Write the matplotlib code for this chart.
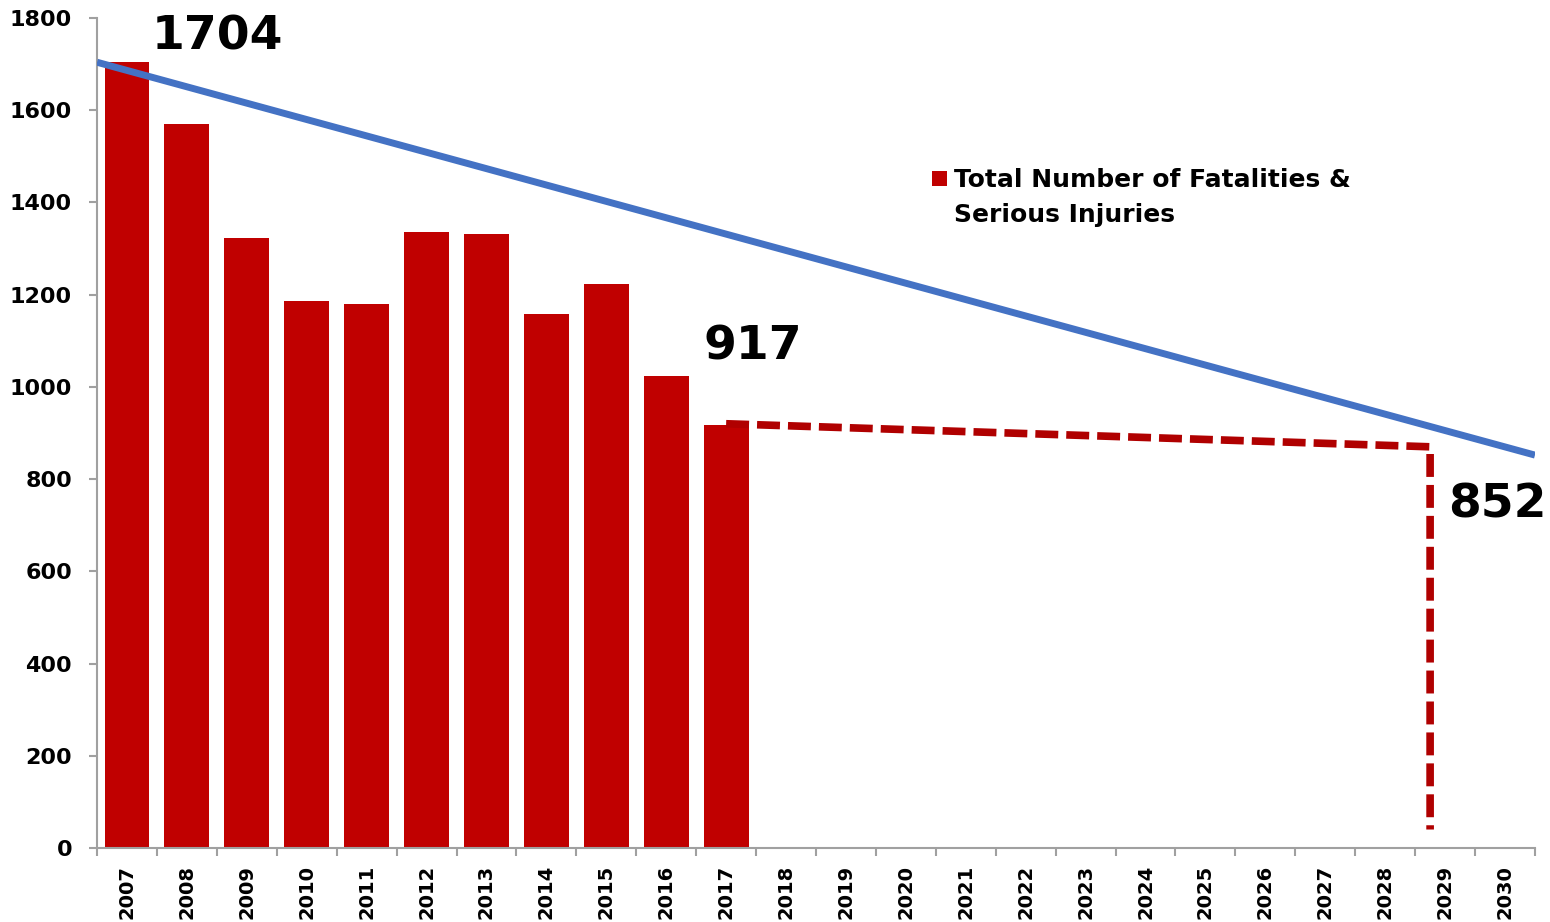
import matplotlib
matplotlib.use("Agg")
import matplotlib.pyplot as plt
import numpy as np
from matplotlib.patches import Patch

years = [str(y) for y in range(2007, 2031)]
bar_years = years[:11]
fsi_values = [1704, 1570, 1322, 1187, 1180, 1335, 1331, 1158, 1222, 1024, 917]
target_values = [1704, 852]          # straight-line target from 2007 to 2030
projection_values = [920, 870, 40]   # dashed projection: 2017 -> 2029, then drop
legend_lines = ["Total Number of Fatalities &", "Serious Injuries"]

plt.rcParams['font.family'] = ['DejaVu Sans']
plt.rcParams['font.weight'] = 'bold'

fig = plt.figure(figsize=(15.5, 9.22), dpi=100)
ax = fig.add_axes([0.0626, 0.0803, 0.9277, 0.9002])

n = len(years)
x = np.arange(n)
bar_x = np.arange(len(bar_years))
ax.bar(bar_x, fsi_values, width=0.75, color='#C00000', zorder=2)

# blue target line from left edge to right edge
ax.plot([-0.5, n - 0.5], target_values, color='#4472C4', lw=5, zorder=3,
        solid_capstyle='butt')

# dashed projection
i17 = bar_years.index('2017')
i29 = years.index('2029') - 0.25
ax.plot([i17, i29, i29], projection_values, color='#B00000', lw=5.5,
        dashes=(3.0, 1.05), zorder=3)

# annotations
ax.text(0.42, fsi_values[0] + 55, str(fsi_values[0]), fontsize=34,
        fontweight='bold', va='center', ha='left')
ax.text(i17 - 0.37, fsi_values[-1] + 170, str(fsi_values[-1]), fontsize=34,
        fontweight='bold', va='center', ha='left')
ax.text(n - 1.95, target_values[-1] - 108, str(target_values[-1]), fontsize=34,
        fontweight='bold', va='center', ha='left')

ax.set_xlim(-0.5, n - 0.5)
ax.set_ylim(0, 1800)
ax.set_yticks(np.arange(0, 1801, 200))
ax.set_yticklabels([str(v) for v in range(0, 1801, 200)], fontsize=16,
                   fontweight='bold')
ax.set_xticks(x)
ax.set_xticklabels(years, rotation=90, fontsize=14, fontweight='bold')
ax.set_xticks(np.arange(-0.5, n, 1), minor=True)
ax.tick_params(axis='x', which='major', length=0, pad=12)
ax.tick_params(axis='x', which='minor', length=6, color='#A0A0A0', width=1.5)
ax.tick_params(axis='y', length=6, color='#A0A0A0', width=1.5, pad=12)
for s in ['top', 'right']:
    ax.spines[s].set_visible(False)
for s in ['left', 'bottom']:
    ax.spines[s].set_color('#A0A0A0')
    ax.spines[s].set_linewidth(1.5)

handle = Patch(facecolor='#C00000', edgecolor='none')
leg = ax.legend([handle], [legend_lines[0]], loc='upper left',
                bbox_to_anchor=(0.565, 0.846), frameon=False,
                prop={'size': 18, 'weight': 'bold'},
                handlelength=0.6, handleheight=0.6, handletextpad=0.3,
                labelspacing=0.2)

# second line of the legend label, aligned under the first
fig.canvas.draw()
t0 = leg.get_texts()[0]
bb = t0.get_window_extent().transformed(fig.transFigure.inverted())
fig.text(bb.x0, bb.y0 - 35 / fig.bbox.height, legend_lines[1],
         fontsize=18, fontweight='bold', ha='left', va='bottom')

fig.savefig('out.png', dpi=100)
